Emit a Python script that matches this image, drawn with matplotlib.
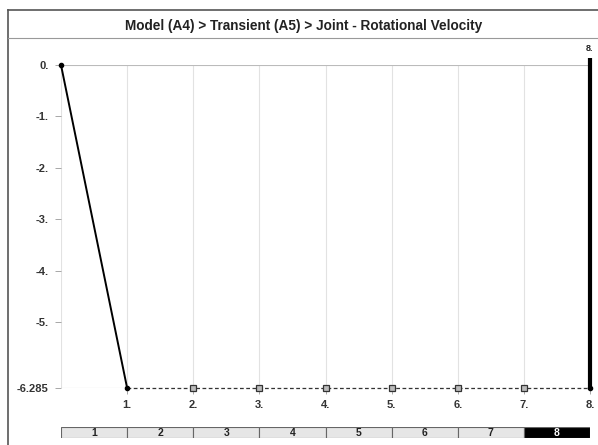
import matplotlib
matplotlib.use("Agg")
import matplotlib.pyplot as plt
from matplotlib.lines import Line2D
import numpy as np

plt.rcParams['font.family'] = ['Liberation Sans', 'DejaVu Sans']

title = "Model (A4) > Transient (A5) > Joint - Rotational Velocity"
times = [0, 1, 2, 3, 4, 5, 6, 7, 8]
velocity = [0, -6.285, -6.285, -6.285, -6.285, -6.285, -6.285, -6.285, -6.285]
ytick_vals = [0, -1, -2, -3, -4, -5, -6.285]
ytick_labels = ["0.", "-1.", "-2.", "-3.", "-4.", "-5.", "-6.285"]
xtick_vals = [1, 2, 3, 4, 5, 6, 7, 8]
xtick_labels = ["1.", "2.", "3.", "4.", "5.", "6.", "7.", "8."]
steps = [1, 2, 3, 4, 5, 6, 7, 8]
current_step = 8
cursor_label = "8."

W, H = 598, 445
fig = plt.figure(figsize=(W/100, H/100), dpi=100)
fig.patch.set_facecolor('white')

def fx(px): return px / W
def fy(py): return 1 - py / H

# frame lines
fig.add_artist(Line2D([fx(8), fx(598)], [fy(10), fy(10)], color='#555555', lw=1.2))
fig.add_artist(Line2D([fx(8), fx(8)], [fy(10), fy(445)], color='#555555', lw=1.2))
fig.add_artist(Line2D([fx(8), fx(598)], [fy(38), fy(38)], color='#999999', lw=0.8))
fig.text(fx(304), fy(26), title, ha='center', va='center', fontsize=9.8,
         fontweight='bold', color='#222222')

ax = fig.add_axes([fx(61), fy(388), fx(590) - fx(61), (388 - 65) / H])
ax.set_xlim(0, 8)
ax.set_ylim(-6.285, 0)
for s in ax.spines.values():
    s.set_visible(False)

# grid
for x in range(0, 8):
    ax.axvline(x, color='#e2e2e2', lw=0.8, zorder=0)
ax.axhline(0, color='#bbbbbb', lw=0.8, zorder=0)
ax.axhline(-6.285, color='#bbbbbb', lw=0.8, zorder=0)

# data
ax.plot(times[:2], velocity[:2], color='black', lw=1.4, zorder=3, clip_on=False)
ax.plot(times[1:], velocity[1:], color='#333333', lw=0.9, ls=(0, (3, 2)), zorder=3, clip_on=False)
ax.plot(times[2:-1], velocity[2:-1], ls='none', marker='s', ms=4, mfc='#bbbbbb', mec='#333333',
        mew=0.9, zorder=4, clip_on=False)
ax.plot([times[0], times[1], times[-1]], [velocity[0], velocity[1], velocity[-1]], ls='none',
        marker='o', ms=3, color='black', zorder=4, clip_on=False)

# cursor
ax.plot([current_step, current_step], [-6.285, 0.13], color='black', lw=3, zorder=5,
        clip_on=False, solid_capstyle='butt')
ax.text(current_step, 0.33, cursor_label, ha='center', va='center', fontsize=6.5,
        fontweight='bold', color='#222222')

ax.set_yticks(ytick_vals)
ax.set_yticklabels(ytick_labels, fontsize=8, color='#333333', fontweight='bold')
ax.set_xticks(xtick_vals)
ax.set_xticklabels(xtick_labels, fontsize=8, color='#333333', fontweight='bold')
ax.tick_params(axis='y', length=4, width=0.6, color='#999999', pad=5)
ax.tick_params(axis='x', length=4, width=0.6, color='#999999', pad=5)

# step bar
bx = fig.add_axes([fx(61), fy(438), fx(590) - fx(61), 11 / H])
bx.set_xlim(0, 8)
bx.set_ylim(0, 1)
bx.axis('off')
for s in steps:
    fc = 'black' if s == current_step else '#e6e6e6'
    tc = 'white' if s == current_step else '#222222'
    bx.bar(s - 0.5, 1, width=1, bottom=0, color=fc, edgecolor='#666666', lw=0.8)
    bx.text(s - 0.5, 0.45, str(s), ha='center', va='center', fontsize=7.5,
            fontweight='bold', color=tc)

fig.savefig("out.png", dpi=100, facecolor='white')
